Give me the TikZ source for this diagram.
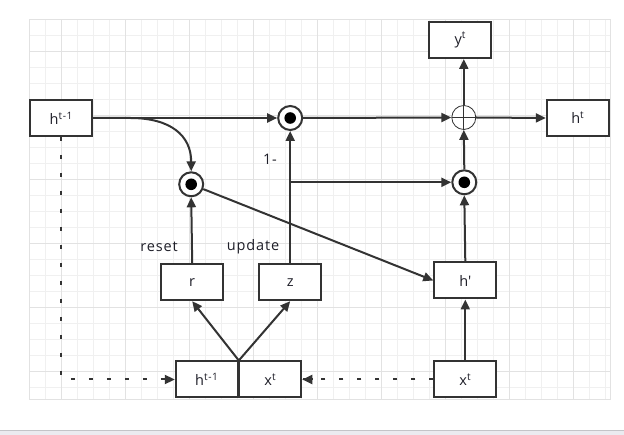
\documentclass[tikz,border=0pt]{standalone}
\usepackage{fontspec}
\setmainfont{Open Sans}[LetterSpace=6.0]
\usepackage{tikz}
\usetikzlibrary{arrows.meta}

\definecolor{linec}{HTML}{333333}
\definecolor{textc}{HTML}{1E1E28}
\definecolor{gridminor}{HTML}{F0F0F0}
\definecolor{gridmajor}{HTML}{E2E2E2}
\definecolor{barfill}{HTML}{EBEBF0}
\definecolor{barline}{HTML}{C4C4C8}

\tikzset{
	cell/.style={draw=linec, line width=2pt, fill=white, minimum width=62pt, minimum height=36pt, inner sep=0pt, text=textc, font=\fontsize{14.5}{17}\selectfont},
	hadamard/.style={circle, draw=linec, line width=2pt, fill=white, minimum size=24pt, inner sep=0pt,
		path picture={\fill[black] (path picture bounding box.center) circle (5.8pt);}},
	addop/.style={circle, draw=linec, line width=0.8pt, fill=white, minimum size=24pt, inner sep=0pt,
		path picture={\draw[linec, line width=0.8pt] ([xshift=-12pt]path picture bounding box.center) -- ++(24pt,0pt)
			([yshift=-12pt]path picture bounding box.center) -- ++(0pt,24pt);}},
	tag/.style={text=textc, font=\fontsize{14.5}{17}\selectfont, inner sep=0pt},
	flow/.style={draw=linec, line width=2pt, ->},
	skip/.style={draw=linec, line width=2pt, dash pattern=on 4.5pt off 13.5pt}
}

\begin{document}
\begin{tikzpicture}[x=1pt, y=-1pt, >={Triangle[length=10pt,width=9pt]}]
	\useasboundingbox (0,0) rectangle (624,435);

	% background grid
	\begin{scope}
		\clip (29.3,19.3) rectangle (610,399);
		\foreach \k in {0,...,36} \draw[gridminor, line width=0.8pt] ({29.3+16*\k},19.3) -- ++(0,380);
		\foreach \k in {0,...,24} \draw[gridminor, line width=0.8pt] (29.3,{19.3+16*\k}) -- ++(581,0);
		\foreach \k in {0,...,8} \draw[gridmajor, line width=0.8pt] ({61.3+64*\k},19.3) -- ++(0,380);
		\foreach \k in {0,...,5} \draw[gridmajor, line width=0.8pt] (29.3,{51.3+64*\k}) -- ++(581,0);
	\end{scope}
	\draw[gridmajor, line width=0.8pt] (29.3,19.3) rectangle (610,399);

	% status bar
	\fill[barfill] (0,431) rectangle (624,435);
	\draw[barline, line width=1pt] (0,431) -- (624,431);

	% boxes
	\node[cell] (hprev) at (61.3,118) {h\textsuperscript{t-1}};
	\node[cell] (yt) at (460.3,40) {y\textsuperscript{t}};
	\node[cell] (ht) at (577.8,118) {h\textsuperscript{t}};
	\node[cell] (rgate) at (192.2,282.2) {r};
	\node[cell] (zgate) at (290.2,282.2) {z};
	\node[cell] (hcand) at (465.3,280.5) {h\textquotesingle};
	\node[cell] (xin) at (465.3,379.5) {x\textsuperscript{t}};
	\node[cell] (hcat) at (206.8,379.5) {h\textsuperscript{t-1}};
	\node[cell] (xcat) at (270.3,379.5) {x\textsuperscript{t}};
	\coordinate (split) at (hcat.north east);

	% operators
	\node[hadamard] (mulz) at (290.2,118) {};
	\node[hadamard] (mulr) at (191.2,184.3) {};
	\node[hadamard] (mulh) at (464.3,182.3) {};
	\node[addop] (sum) at (463.8,117.5) {};

	% labels
	\node[tag] (one) at (270,159) {1-};
	\node[tag] (reset) at (159,247) {reset};
	\node[tag] (update) at (253,247) {update};

	% connectors
	\draw[flow] (hprev.east) -- (mulz.west);
	\draw[flow] (hprev.east) -- ++(37,0) .. controls +(40,0) and +(0,-36) .. (mulr.north);
	\draw[flow] (mulz.east) -- (sum.west);
	\draw[flow] (sum.north) -- (sum.north |- yt.south);
	\draw[flow] (sum.east) -- (ht.west);
	\draw[flow] (mulh.north) -- (sum.south);
	\draw[flow] (zgate.north) -- (mulz.south);
	\draw[flow] (zgate.north |- mulh) -- (mulh.west);
	\draw[flow] (mulr) -- (hcand.west);
	\draw[flow] (rgate.north) -- (mulr.south);
	\draw[flow] (hcand.north) -- (mulh.south);
	\draw[flow] (xin.north) -- (hcand.south);
	\draw[flow] (split) -- (rgate.south);
	\draw[flow] (split) -- (zgate.south);
	\draw[skip] (xin.west) -- (xcat.east);
	\draw[draw=linec, line width=2pt, ->] (xcat.east) ++(10,0) -- (xcat.east);
	\draw[skip] (hprev.south) -- (hprev.south |- hcat.west) -- (hcat.west);
	\draw[draw=linec, line width=2pt, ->] (hcat.west) ++(-10,0) -- (hcat.west);
\end{tikzpicture}
\end{document}
